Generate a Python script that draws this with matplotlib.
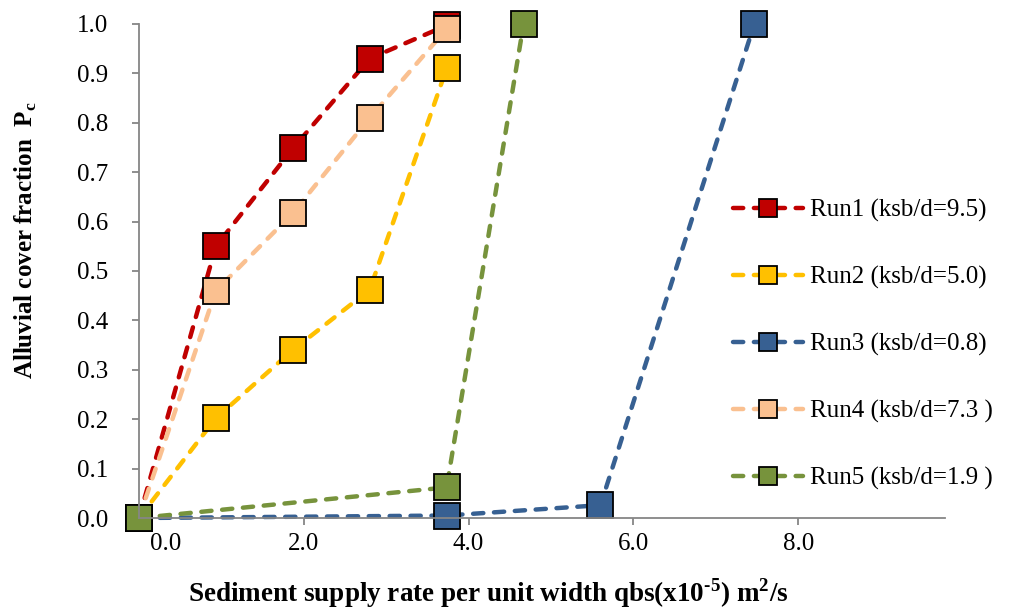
import matplotlib.pyplot as plt
import matplotlib.transforms as mtransforms

plt.rcParams['font.family'] = ['Liberation Serif', 'DejaVu Serif']
plt.rcParams['mathtext.fontset'] = 'custom'
plt.rcParams['mathtext.rm'] = 'Liberation Serif'
plt.rcParams['mathtext.bf'] = 'Liberation Serif:bold'

# Sediment supply rate (x10^-5 m2/s) and cover fraction for each run
run1_x = [0.0, 0.933, 1.867, 2.8, 3.733]
run1_y = [0.0, 0.55, 0.748, 0.93, 0.997]
run2_x = [0.0, 0.933, 1.867, 2.8, 3.733]
run2_y = [0.0, 0.202, 0.34, 0.462, 0.91]
run3_x = [0.0, 3.733, 5.6, 7.467]
run3_y = [0.0, 0.005, 0.026, 1.0]
run4_x = [0.0, 0.933, 1.867, 2.8, 3.733]
run4_y = [0.0, 0.46, 0.617, 0.81, 0.99]
run5_x = [0.0, 3.733, 4.667]
run5_y = [0.0, 0.062, 1.0]

labels = ['Run1 (ksb/d=9.5)', 'Run2 (ksb/d=5.0)', 'Run3 (ksb/d=0.8)',
          'Run4 (ksb/d=7.3 )', 'Run5 (ksb/d=1.9 )']
colors = ['#C00000', '#FFC000', '#376092', '#FAC090', '#77933C']

x_ticks = [0.0, 2.0, 4.0, 6.0, 8.0]
y_ticks = [0.0, 0.1, 0.2, 0.3, 0.4, 0.5, 0.6, 0.7, 0.8, 0.9, 1.0]

fig = plt.figure(figsize=(10.1, 6.1), dpi=100)
ax = fig.add_axes([0.1376, 0.1508, 0.798, 0.8099])

series = [(run1_x, run1_y), (run2_x, run2_y), (run3_x, run3_y),
          (run4_x, run4_y), (run5_x, run5_y)]
for (xs, ys), lab, c in zip(series, labels, colors):
    ax.plot(xs, ys, color=c, lw=3.2, dashes=(2.3, 2.4),
            dash_capstyle='round', marker='s', markersize=19,
            markerfacecolor=c, markeredgecolor='black', markeredgewidth=1.3,
            label=lab, clip_on=False)

ax.set_xlim(0, 9.78)
ax.set_ylim(0, 1.0)
ax.set_xticks(x_ticks)
ax.set_xticklabels([f'{v:.1f}' for v in x_ticks])
ax.set_yticks(y_ticks)
ax.set_yticklabels([f'{v:.1f}' for v in y_ticks])

for side in ['top', 'right']:
    ax.spines[side].set_visible(False)
for side in ['left', 'bottom']:
    ax.spines[side].set_color('#868686')
    ax.spines[side].set_linewidth(1.3)

ax.tick_params(axis='both', colors='#868686', labelcolor='black',
               labelsize=18, length=5, width=1.3, direction='out')
ax.tick_params(axis='y', pad=17)
ax.tick_params(axis='x', pad=6)

# first x label sits to the right of the axis corner
first = ax.get_xticklabels()[0]
first.set_transform(first.get_transform() +
                    mtransforms.ScaledTranslation(27 / 100, 0, fig.dpi_scale_trans))

ax.set_xlabel('Sediment supply rate per unit width qbs(x10$^{\\mathbf{\u2010}\\mathbf{5}}$) m$^{\\mathbf{2}}$/s',
              fontsize=19.5, fontweight='bold')
ax.xaxis.set_label_coords(0.434, -0.117)
ax.set_ylabel(r'Alluvial cover fraction  P$_{\mathbf{c}}$',
              fontsize=18, fontweight='bold')
ax.yaxis.set_label_coords(-0.124, 0.563)

ax.legend(loc='upper left', bbox_to_anchor=(733 / 1010, 1 - 199 / 610),
          bbox_transform=fig.transFigure, frameon=False, fontsize=18,
          handlelength=2.8, handletextpad=0.3, labelspacing=1.76,
          borderpad=0, borderaxespad=0, markerscale=0.68)

fig.savefig('out.png', dpi=100)
